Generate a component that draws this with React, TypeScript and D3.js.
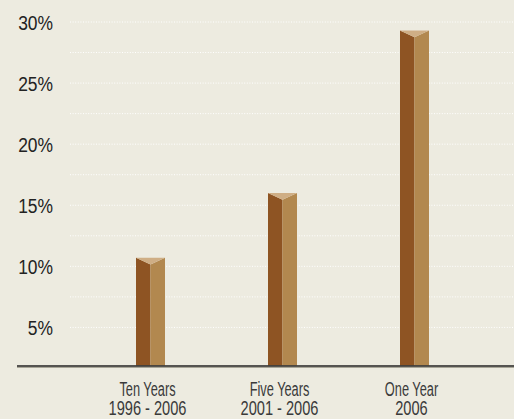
import React from "react";
import * as d3 from "d3";

// Annualized returns by holding period
const periods = ["Ten Years", "Five Years", "One Year"];
const periodRanges = ["1996 - 2006", "2001 - 2006", "2006"];
const returns = [10.7, 16.0, 29.3];

// Axis labels and gridline steps
const tickValues = [5, 10, 15, 20, 25, 30];
const gridValues = [5, 7.5, 10, 12.5, 15, 17.5, 20, 22.5, 25, 27.5, 30];

const W = 514;
const H = 419;
const baselineY = 365.5;
const barWidth = 29;
const capDepth = 6.7;

const BG = "#EDEBE0";
const DARK = "#8E5423";
const LIGHT = "#B2884F";
const CAP = "#CFAE85";
const FONT = "'Liberation Sans', Arial, sans-serif";

export default function App() {
  const y = d3.scaleLinear().domain([0, 30]).range([388.5, 22]);
  const x = d3
    .scalePoint<string>()
    .domain(periods)
    .range([150.5, 414.5]);

  return (
    <svg
      width={W}
      height={H}
      viewBox={`0 0 ${W} ${H}`}
      style={{ position: "absolute", left: 0, top: 0, display: "block" }}
    >
      <rect x={0} y={0} width={W} height={H} fill={BG} />

      {/* dotted gridlines */}
      {gridValues.map((v) => (
        <line
          key={`g${v}`}
          x1={70}
          x2={W}
          y1={y(v)}
          y2={y(v)}
          stroke="#ffffff"
          strokeWidth={1}
          strokeDasharray="1 1.6"
        />
      ))}

      {/* y tick labels, horizontally condensed */}
      {tickValues.map((v) => (
        <text
          key={`t${v}`}
          transform={`translate(53,${y(v) + 7.5}) scale(0.83,1)`}
          textAnchor="end"
          fontFamily={FONT}
          fontSize={21}
          fill="#222"
        >
          {`${v}%`}
        </text>
      ))}

      {/* bars with bevelled tops */}
      {periods.map((p, i) => {
        const cx = x(p) as number;
        const top = y(returns[i]);
        const l = cx - barWidth / 2;
        const r = cx + barWidth / 2;
        return (
          <g key={p}>
            <polygon
              points={`${l},${top} ${cx},${top + capDepth} ${cx},${baselineY} ${l},${baselineY}`}
              fill={DARK}
            />
            <polygon
              points={`${cx},${top + capDepth} ${r},${top} ${r},${baselineY} ${cx},${baselineY}`}
              fill={LIGHT}
            />
            <polygon
              points={`${l},${top} ${r},${top} ${cx},${top + capDepth}`}
              fill={CAP}
            />
          </g>
        );
      })}

      {/* baseline */}
      <line x1={17} x2={W} y1={baselineY + 0.5} y2={baselineY + 0.5} stroke="#222" strokeWidth={1.5} />
      <line x1={17} x2={W} y1={baselineY + 2} y2={baselineY + 2} stroke="#A8A698" strokeWidth={1} />

      {/* category labels, horizontally condensed */}
      {periods.map((p, i) => {
        const cx = (x(p) as number) - 3;
        return (
          <g key={`c${p}`}>
            <text
              transform={`translate(${cx},395.5) scale(0.64,1)`}
              textAnchor="middle"
              fontFamily={FONT}
              fontSize={20}
              fill="#3a3a3a"
            >
              {p}
            </text>
            <text
              transform={`translate(${cx},415) scale(0.75,1)`}
              textAnchor="middle"
              fontFamily={FONT}
              fontSize={19.5}
              fill="#3a3a3a"
            >
              {periodRanges[i]}
            </text>
          </g>
        );
      })}
    </svg>
  );
}
